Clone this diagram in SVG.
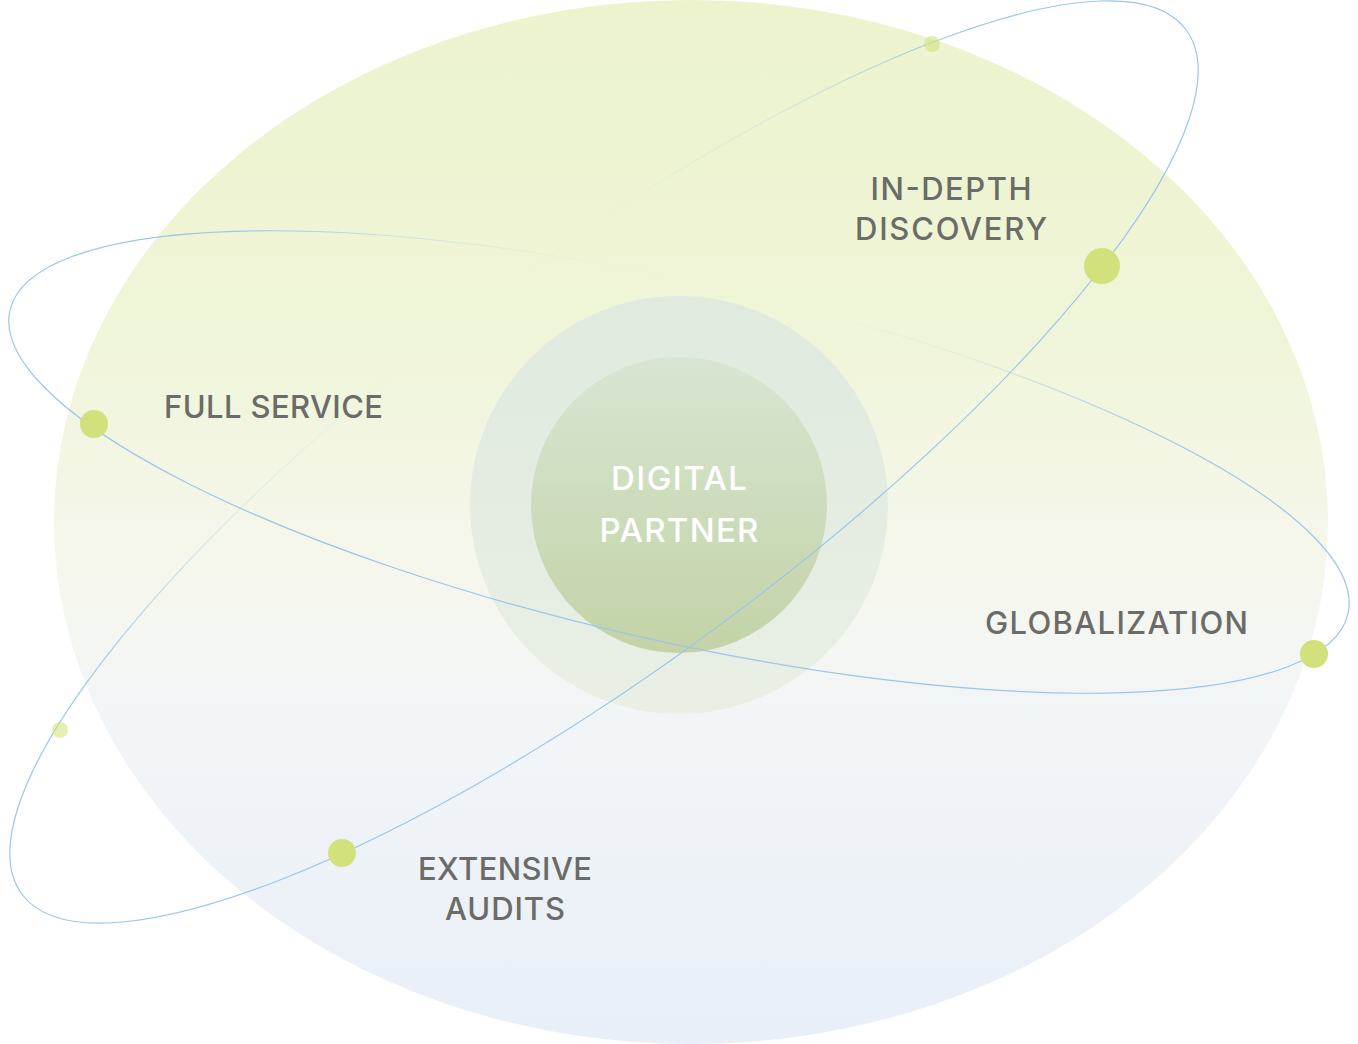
<svg xmlns="http://www.w3.org/2000/svg" width="1358" height="1044" viewBox="0 0 1358 1044">
<style>
.lbl{font-family:Inter,"Open Sans","Liberation Sans",sans-serif;font-size:31px;font-weight:500;fill:#6b6b67;text-anchor:middle}
.ctr{font-family:Inter,"Open Sans","Liberation Sans",sans-serif;font-size:33px;font-weight:500;fill:#ffffff;text-anchor:middle}
.big{fill:#d3e17c}
.small{fill:#d3e17c;opacity:0.58}
.orbit{fill:none;stroke-width:1.2}
</style>
<defs>
<linearGradient id="bgG" x1="0" y1="0" x2="0" y2="1">
<stop offset="0" stop-color="#ecf3cd"/>
<stop offset="0.3" stop-color="#eff5d7"/>
<stop offset="0.55" stop-color="#f5f7ed"/>
<stop offset="0.7" stop-color="#f2f5f8"/>
<stop offset="1" stop-color="#e8eff7"/>
</linearGradient>
<linearGradient id="outerG" x1="0" y1="0" x2="0" y2="1">
<stop offset="0" stop-color="#e0eadf"/>
<stop offset="1" stop-color="#e9efe4"/>
</linearGradient>
<linearGradient id="innerG" x1="0" y1="0" x2="0" y2="1">
<stop offset="0" stop-color="#d8e5d3"/>
<stop offset="1" stop-color="#c3d3a6"/>
</linearGradient>
<radialGradient id="orbA" gradientUnits="userSpaceOnUse" cx="0" cy="0" r="1" gradientTransform="translate(0,-200) scale(600,200)">
<stop offset="0" stop-color="#9cc5e8" stop-opacity="0"/>
<stop offset="0.3" stop-color="#9cc5e8" stop-opacity="0.05"/>
<stop offset="0.6" stop-color="#9cc5e8" stop-opacity="0.3"/>
<stop offset="0.9" stop-color="#9cc5e8" stop-opacity="0.85"/>
<stop offset="1" stop-color="#9cc5e8" stop-opacity="1"/>
</radialGradient>
<radialGradient id="orbB" gradientUnits="userSpaceOnUse" cx="0" cy="0" r="1" gradientTransform="translate(0,-179) scale(520,179)">
<stop offset="0" stop-color="#9cc5e8" stop-opacity="0"/>
<stop offset="0.25" stop-color="#9cc5e8" stop-opacity="0.03"/>
<stop offset="0.5" stop-color="#9cc5e8" stop-opacity="0.2"/>
<stop offset="0.85" stop-color="#9cc5e8" stop-opacity="0.8"/>
<stop offset="1" stop-color="#9cc5e8" stop-opacity="1"/>
</radialGradient>
</defs>

<g id="background">
<ellipse cx="691" cy="522" rx="637" ry="522" fill="url(#bgG)"/>
</g>

<g id="digital-partner">
<circle cx="679" cy="505" r="209" fill="url(#outerG)"/>
<circle cx="679" cy="505" r="148" fill="url(#innerG)"/>
<text class="ctr" x="679" y="490" textLength="136" lengthAdjust="spacing">DIGITAL</text>
<text class="ctr" x="679" y="542" textLength="159" lengthAdjust="spacing">PARTNER</text>
</g>

<g id="connectors">
<g transform="translate(604,462) rotate(-36.6)">
<ellipse class="orbit" cx="0" cy="0" rx="725" ry="200" stroke="url(#orbA)"/>
</g>
<g transform="translate(679,462) rotate(12.77)">
<ellipse class="orbit" cx="0" cy="0" rx="686" ry="179" stroke="url(#orbB)"/>
</g>
</g>

<g id="dots">
<circle class="small" cx="932" cy="44" r="8"/>
<circle class="small" cx="60" cy="730" r="8"/>
</g>

<g id="in-depth-discovery">
<circle class="big" cx="1102" cy="266" r="18"/>
<text class="lbl" x="951" y="200" textLength="161" lengthAdjust="spacing">IN-DEPTH</text>
<text class="lbl" x="951" y="240" textLength="192" lengthAdjust="spacing">DISCOVERY</text>
</g>

<g id="full-service">
<circle class="big" cx="94" cy="424" r="14"/>
<text class="lbl" x="273.5" y="418" textLength="219" lengthAdjust="spacing">FULL SERVICE</text>
</g>

<g id="globalization">
<circle class="big" cx="1314" cy="654" r="14"/>
<text class="lbl" x="1116.5" y="634" textLength="263" lengthAdjust="spacing">GLOBALIZATION</text>
</g>

<g id="extensive-audits">
<circle class="big" cx="342" cy="853" r="14"/>
<text class="lbl" x="505" y="880" textLength="174" lengthAdjust="spacing">EXTENSIVE</text>
<text class="lbl" x="505" y="920" textLength="120" lengthAdjust="spacing">AUDITS</text>
</g>
</svg>
